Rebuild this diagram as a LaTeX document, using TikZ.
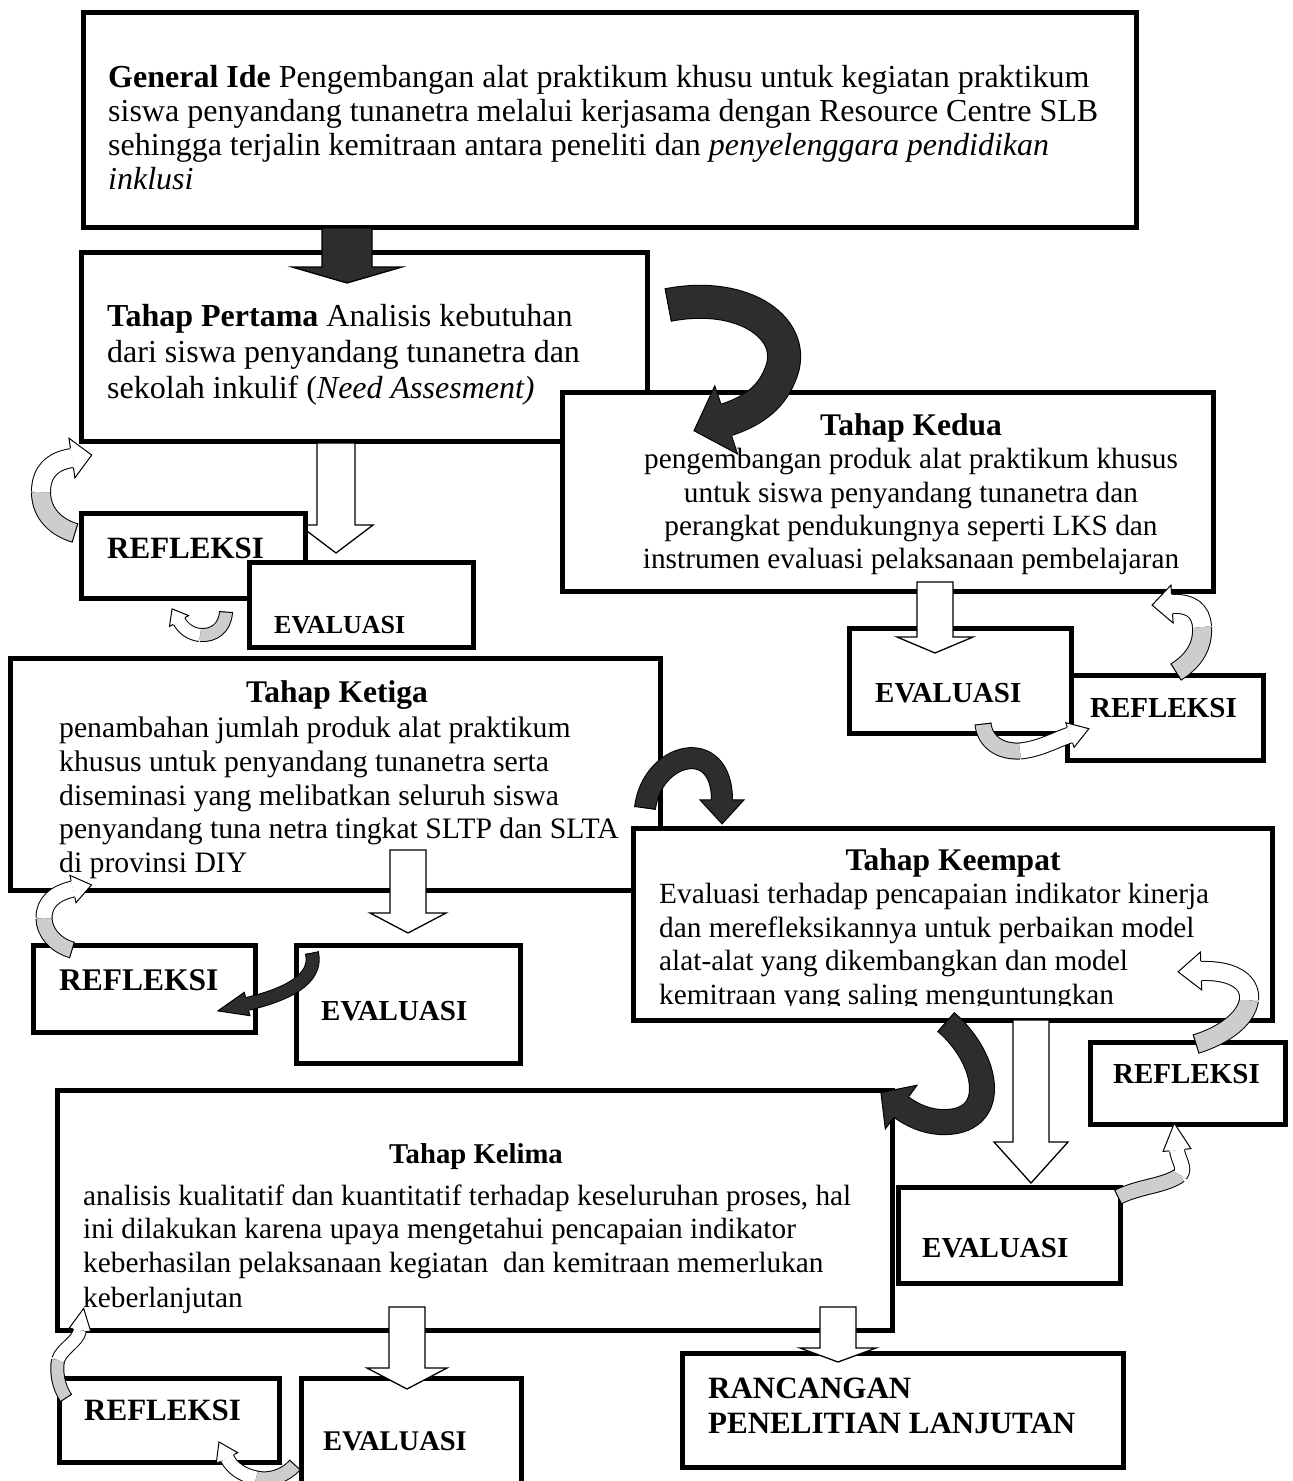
\documentclass[tikz,border=0pt]{standalone}
\usepackage{fontspec}
\setmainfont{Liberation Serif}
\usetikzlibrary{decorations.markings}
\definecolor{dk}{RGB}{45,45,45}
\definecolor{lg}{RGB}{205,205,205}
\newcommand\boxat[5]{\node[box, minimum width={(#4-#2)*1pt}, minimum height={(#5-#3)*1pt}] (#1) at (#2,#3) {};}
\newcommand\blkarrow[7]{\draw[#1] ({#2-#3},#5) -- ({#2+#3},#5) -- ({#2+#3},#6) -- ({#2+#4},#6) -- (#2,#7) -- ({#2-#4},#6) -- ({#2-#3},#6) -- cycle;}
\tikzset{
 box/.style={draw=black, line width=5pt, fill=white, inner sep=0pt, outer sep=0pt, anchor=north west},
 ta/.style={font={\fontsize{32}{34}\selectfont}, inner sep=0pt, anchor=base west},
 tb/.style={font={\fontsize{29.3}{33}\selectfont}, inner sep=0pt, anchor=base west},
 tc/.style={font={\fontsize{29.7}{33}\selectfont}, inner sep=0pt, anchor=base west},
 lbl/.style={font={\bfseries\fontsize{#1}{#1}\selectfont}, inner sep=0pt, anchor=base west},
 wblk/.style={draw=black, line width=1.3pt, fill=white, line join=miter},
 dblk/.style={draw=black, line width=1.3pt, fill=dk, line join=miter},
 seg/.style n args={2}{preaction={draw=black, line width={#2pt+2pt}}, draw=#1, line width=#2pt},
 tailcap/.style={postaction={decorate, decoration={markings, mark=at position 0.001 with {\draw[black, line width=1pt] (0,{#1/2+1}) -- (0,{-#1/2-1});}}}},
 ahead/.style n args={4}{postaction={decorate, decoration={markings, mark=at position 0.999 with {\fill[#1] (0,#3) -- (#4,0) -- (0,-#3) -- cycle; \draw[black, line width=1pt, line join=miter] (0,{#2/2+1}) -- (0,#3) -- (#4,0) -- (0,-#3) -- (0,{-#2/2-1});}}}},
}
\begin{document}
\begin{tikzpicture}[x=1pt,y=-1pt]
\useasboundingbox[fill=white] (0,0) rectangle (1293,1481);

% ---- General Ide
\boxat{b0}{83}{12}{1136}{227}
\node[ta] (g1) at (108,87) {\textbf{General Ide} Pengembangan alat praktikum khusu untuk kegiatan praktikum};
\node[ta] (g2) at (108,121) {siswa penyandang tunanetra melalui kerjasama dengan Resource Centre SLB};
\node[ta] (g3) at (108,155) {sehingga terjalin kemitraan antara peneliti dan \textit{penyelenggara pendidikan}};
\node[ta] (g4) at (108,189) {\textit{inklusi}};

% ---- Tahap Pertama
\boxat{b1}{81}{252}{647}{441}
\blkarrow{dblk}{347}{25}{55}{228}{267}{283}
\node[ta] (p1) at (107,326) {\textbf{Tahap Pertama} Analisis kebutuhan};
\node[ta] (p2) at (107,362) {dari siswa penyandang tunanetra dan};
\node[ta] (p3) at (107,398) {sekolah inkulif (\textit{Need Assesment)}};

% ---- Tahap Kedua
\boxat{b2}{562}{392}{1213}{591}
\node[lbl=31.5, anchor=base] (k2t) at (911,435) {Tahap Kedua};
\node[tb, anchor=base] (k2a) at (911,468) {pengembangan produk alat praktikum khusus};
\node[tb, anchor=base] (k2b) at (911,502) {untuk siswa penyandang tunanetra dan};
\node[tb, anchor=base] (k2c) at (911,535) {perangkat pendukungnya seperti LKS dan};
\node[tb, anchor=base] (k2d) at (911,568) {instrumen evaluasi pelaksanaan pembelajaran};
\draw[seg={dk}{32}, tailcap=32, ahead={dk}{32}{36}{34}] (668,305) .. controls (745,290) and (800,330) .. (780,375) .. controls (770,400) and (750,412) .. (726,420);

% ---- Pertama: evaluasi / refleksi
\blkarrow{wblk}{336}{19}{37}{443}{525}{553}
\boxat{r1}{81}{513}{305}{598}
\node[lbl=31] (r1t) at (107,558) {REFLEKSI};
\boxat{e1}{249}{562}{473}{647}
\node[lbl=26] (e1t) at (274,633) {EVALUASI};
\draw[seg={lg}{18}, tailcap=18] (75,533) .. controls (52,526) and (41,510) .. (41,492);
\draw[seg={white}{18}, ahead={white}{18}{20}{20}] (41,492) .. controls (41,472) and (52,461) .. (72,458);
\draw[seg={lg}{12}, tailcap=12] (226,612) .. controls (225,628) and (214,636) .. (200,635);
\draw[seg={white}{12}, ahead={white}{12}{11}{14}] (200,635) .. controls (190,634) and (183,628) .. (179,621);

% ---- Kedua: evaluasi / refleksi
\boxat{r2}{1067}{675}{1263}{760}
\node[lbl=29] (r2t) at (1090,717) {REFLEKSI};
\boxat{e2}{849}{628}{1071}{733}
\node[lbl=29] (e2t) at (875,702) {EVALUASI};
\blkarrow{wblk}{935}{18}{38}{582}{637}{653}
\draw[seg={lg}{18}, tailcap=18] (1176,672) .. controls (1195,660) and (1203,645) .. (1202,627);
\draw[seg={white}{18}, ahead={white}{18}{19}{20}] (1202,627) .. controls (1201,610) and (1190,603) .. (1172,604);
\draw[seg={lg}{15}, tailcap=15] (983,724) .. controls (985,742) and (1000,752) .. (1020,751);
\draw[seg={white}{15}, ahead={white}{15}{13}{20}] (1020,751) .. controls (1040,749) and (1055,740) .. (1070,735);

% ---- Tahap Ketiga
\boxat{b3}{10}{658}{660}{890}
\node[lbl=31.5, anchor=base] (k3t) at (337,702) {Tahap Ketiga};
\node[tc] (k3a) at (59,737) {penambahan jumlah produk alat praktikum};
\node[tc] (k3b) at (59,771) {khusus untuk penyandang tunanetra serta};
\node[tc] (k3c) at (59,805) {diseminasi yang melibatkan seluruh siswa};
\node[tc] (k3d) at (59,838) {penyandang tuna netra tingkat SLTP dan SLTA};
\node[tc] (k3e) at (59,872) {di provinsi DIY};

% ---- Tahap Keempat
\boxat{b4}{633}{828}{1272}{1020}
\node[lbl=31.5, anchor=base] (k4t) at (953,870) {Tahap Keempat};
\begin{scope}
\clip (636,831) rectangle (1269,1005);
\node[tb] (k4a) at (659,903) {Evaluasi terhadap pencapaian indikator kinerja};
\node[tb] (k4b) at (659,937) {dan merefleksikannya untuk perbaikan model};
\node[tb] (k4c) at (659,970) {alat-alat yang dikembangkan dan model};
\node[tb] (k4d) at (659,1004) {kemitraan yang saling menguntungkan};
\end{scope}
\draw[seg={dk}{20}, tailcap=20, ahead={dk}{20}{22}{24}] (645,808) .. controls (652,752) and (722,735) .. (722,800);

% ---- Ketiga: evaluasi / refleksi
\blkarrow{wblk}{408}{18}{38}{850}{913}{933}
\boxat{r3}{33}{945}{255}{1032}
\node[lbl=31.5] (r3t) at (59,990) {REFLEKSI};
\boxat{e3}{296}{945}{520}{1063}
\node[lbl=29] (e3t) at (321,1020) {EVALUASI};
\draw[seg={lg}{15}, tailcap=15] (72,950) .. controls (55,945) and (44,932) .. (44,918);
\draw[seg={white}{15}, ahead={white}{15}{14}{19}] (44,918) .. controls (44,902) and (55,893) .. (73,889);
\draw[seg={dk}{12}, tailcap=12, ahead={dk}{12}{12}{30}] (312,953) .. controls (318,980) and (285,995) .. (247,1004);

% ---- Keempat: evaluasi / refleksi
\blkarrow{wblk}{1031}{18}{37}{1020}{1142}{1183}
\boxat{r4}{1090}{1042}{1285}{1124}
\node[lbl=29] (r4t) at (1113,1083) {REFLEKSI};
\boxat{e4}{898}{1187}{1120}{1283}
\node[lbl=29] (e4t) at (922,1257) {EVALUASI};
\draw[seg={lg}{18}, tailcap=18] (1196,1044) .. controls (1222,1036) and (1246,1020) .. (1249,1000);
\draw[seg={white}{18}, ahead={white}{18}{19}{23}] (1249,1000) .. controls (1251,980) and (1230,970) .. (1201,971);
\draw[seg={lg}{14}, tailcap=14] (1118,1197) .. controls (1140,1186) and (1165,1186) .. (1180,1175);
\draw[seg={white}{14}, ahead={white}{14}{14}{27}] (1180,1175) .. controls (1186,1168) and (1178,1160) .. (1177,1150);

% ---- Tahap Kelima
\boxat{b5}{57}{1090}{892}{1330}
\node[lbl=28.7, anchor=base] (k5t) at (476,1163) {Tahap Kelima};
\node[tb] (k5a) at (83,1205) {analisis kualitatif dan kuantitatif terhadap keseluruhan proses, hal};
\node[tb] (k5b) at (83,1238) {ini dilakukan karena upaya mengetahui pencapaian indikator};
\node[tb] (k5c) at (83,1272) {keberhasilan pelaksanaan kegiatan\ \ dan kemitraan memerlukan};
\node[tb] (k5d) at (83,1307) {keberlanjutan};
\draw[seg={dk}{24}, tailcap=24, ahead={dk}{24}{27}{25}] (946,1022) .. controls (990,1060) and (1000,1125) .. (940,1122) .. controls (925,1121) and (912,1115) .. (901,1107);

% ---- Kelima: evaluasi / refleksi / rancangan
\boxat{r5}{59}{1378}{279}{1462}
\node[lbl=31] (r5t) at (84,1420) {REFLEKSI};
\boxat{e5}{301}{1378}{521}{1500}
\node[lbl=28.5] (e5t) at (323,1450) {EVALUASI};
\boxat{rc}{682}{1353}{1123}{1467}
\node[lbl=31] (rct1) at (708,1398) {RANCANGAN};
\node[lbl=31] (rct2) at (708,1433) {PENELITIAN LANJUTAN};
\blkarrow{wblk}{407}{18}{40}{1307}{1368}{1389}
\blkarrow{wblk}{838}{18}{38}{1307}{1348}{1362}
\draw[seg={lg}{12}, tailcap=12] (66,1398) .. controls (58,1386) and (56,1372) .. (58,1360);
\draw[seg={white}{12}, ahead={white}{12}{11}{22}] (58,1360) .. controls (62,1348) and (78,1342) .. (80,1330);
\draw[seg={lg}{13}, tailcap=13] (295,1465) .. controls (285,1476) and (270,1481) .. (256,1478);
\draw[seg={white}{13}, ahead={white}{13}{12}{18}] (256,1478) .. controls (242,1475) and (232,1468) .. (227,1458);
\end{tikzpicture}
\end{document}
